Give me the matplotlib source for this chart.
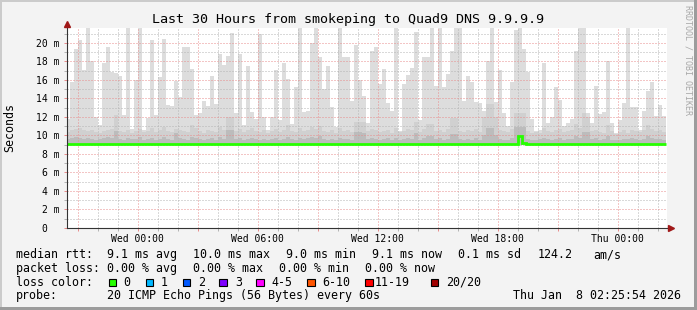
import numpy as np
import matplotlib
matplotlib.use("Agg")
import matplotlib.pyplot as plt
from matplotlib.patches import Rectangle
from matplotlib.ticker import MultipleLocator

W, H = 697, 310  # output size in pixels

title = "Last 30 Hours from smokeping to Quad9 DNS 9.9.9.9"
y_title = "Seconds"
watermark = "RRDTOOL / TOBI OETIKER"

# smoke columns: one every 12 minutes, time in hours relative to Wed 00:00
first_edge = -3.585
step_h = 0.2

# slowest ping per column (ms), 22 = off the top of the graph
max_rtt = [
    11.8, 15.8, 19.35, 20.3, 17.1, 22, 18.05, 12.0, 11.1, 17.8,
    19.55, 16.9, 16.7, 16.4, 12.2, 22, 10.7, 16.0, 22, 10.6,
    11.9, 20.3, 12.2, 16.3, 20.4, 13.3, 13.2, 15.9, 14.2, 19.5,
    19.55, 17.2, 12.2, 12.4, 13.7, 13.2, 16.4, 13.4, 18.8, 17.6,
    18.6, 21.1, 12.4, 18.8, 11.1, 17.5, 12.5, 11.8, 21.0, 12.0,
    10.6, 12.0, 17.1, 11.7, 17.8, 16.1, 11.2, 15.2, 22, 12.5,
    12.6, 20.0, 22, 18.5, 15.0, 17.5, 13.1, 10.9, 22, 18.5,
    18.5, 13.7, 19.8, 16.0, 14.3, 11.35, 19.1, 19.55, 15.5, 17.2,
    13.5, 12.6, 22, 10.5, 15.6, 16.5, 17.3, 21.2, 11.7, 18.5,
    18.5, 22, 15.3, 22, 15.25, 16.6, 19.1, 22, 22, 13.7,
    16.4, 15.8, 13.6, 13.5, 12.6, 18.05, 22, 13.6, 17.1, 12.4,
    11.0, 15.8, 21.4, 22, 19.35, 16.8, 11.8, 10.5, 10.6, 17.8,
    11.35, 12.0, 15.2, 13.8, 11.0, 11.35, 11.8, 19.1, 22, 22,
    12.4, 11.35, 15.35, 12.3, 12.5, 18.05, 11.35, 10.3, 11.7, 13.5,
    22, 13.1, 13.1, 10.6, 12.6, 14.8, 15.8, 12.1, 13.3, 12.1,
]

# second smoke layer (2nd slowest .. 2nd fastest ping)
upper_rtt = [
    10.4, 10.6, 10.7, 10.8, 10.6, 10.5, 10.6, 10.4, 10.3, 10.5,
    10.6, 10.7, 12.2, 10.5, 10.4, 10.6, 10.3, 10.5, 10.7, 10.4,
    10.5, 10.8, 10.4, 10.6, 10.9, 10.5, 10.4, 10.7, 10.6, 10.5,
    10.4, 11.1, 10.8, 10.5, 10.3, 10.6, 10.5, 10.4, 10.9, 10.6,
    12.0, 12.0, 10.5, 10.7, 10.4, 10.6, 10.8, 10.5, 10.4, 10.6,
    10.3, 10.5, 10.7, 10.4, 10.6, 11.1, 10.5, 10.4, 10.8, 10.5,
    10.6, 10.9, 10.7, 11.0, 10.5, 10.4, 10.6, 10.3, 10.8, 10.5,
    10.6, 10.4, 11.4, 11.5, 11.4, 10.5, 10.7, 10.6, 10.4, 10.5,
    10.6, 10.3, 10.8, 10.4, 10.5, 10.7, 10.6, 11.5, 10.4, 10.7,
    11.2, 11.2, 10.5, 10.6, 10.4, 10.7, 11.9, 11.9, 10.5, 10.4,
    10.6, 10.5, 10.7, 10.4, 12.0, 13.4, 13.4, 12.0, 10.6, 10.5,
    10.4, 10.7, 12.4, 12.4, 12.4, 10.5, 10.3, 10.4, 10.3, 10.8,
    10.5, 10.4, 10.6, 10.7, 10.4, 10.5, 10.6, 11.2, 10.8, 12.4,
    12.0, 10.5, 10.6, 10.4, 10.3, 11.1, 10.5, 10.2, 10.4, 10.6,
    10.3, 10.6, 10.5, 10.4, 10.6, 11.1, 10.7, 10.5, 10.6, 10.4,
]

# inner smoke layer
inner_rtt = [
    9.6, 9.7, 9.8, 9.7, 9.6, 9.7, 9.6, 9.5, 9.6, 9.7,
    9.8, 9.7, 10.5, 9.6, 9.5, 9.7, 9.6, 9.6, 9.8, 9.5,
    9.6, 9.7, 9.5, 9.6, 9.8, 9.6, 9.5, 10.3, 9.7, 9.6,
    9.5, 9.8, 9.7, 9.6, 9.5, 9.6, 9.7, 9.5, 9.8, 9.6,
    10.6, 10.6, 9.6, 9.7, 9.5, 9.6, 9.7, 9.6, 9.5, 9.6,
    9.5, 9.6, 9.7, 9.5, 9.6, 9.8, 9.6, 9.5, 9.7, 9.6,
    9.7, 9.8, 9.7, 9.9, 9.6, 9.5, 9.6, 9.5, 9.7, 9.6,
    9.6, 9.5, 10.4, 10.4, 10.3, 9.6, 9.7, 9.6, 9.5, 9.6,
    9.7, 9.5, 9.7, 9.5, 9.6, 9.7, 9.6, 10.3, 9.5, 9.7,
    9.9, 9.9, 9.6, 9.7, 9.5, 9.6, 10.2, 10.2, 9.6, 9.5,
    9.6, 9.5, 9.7, 9.5, 10.0, 10.8, 10.8, 10.0, 9.6, 9.5,
    9.5, 9.7, 10.9, 10.9, 10.9, 9.6, 9.5, 9.5, 9.6, 9.7,
    9.6, 9.5, 9.6, 9.7, 9.5, 9.6, 9.6, 9.9, 9.7, 10.4,
    10.4, 9.6, 9.7, 9.5, 9.6, 9.9, 9.5, 9.5, 9.5, 9.6,
    9.6, 9.7, 9.6, 9.5, 9.6, 9.9, 9.7, 9.6, 9.6, 9.5,
]

median_rtt = [
    9.10, 9.12, 9.10, 9.08, 9.10, 9.10, 9.05, 9.10, 9.10, 9.10,
    9.12, 9.10, 9.10, 9.10, 9.08, 9.10, 9.10, 9.10, 9.12, 9.10,
    9.05, 9.10, 9.10, 9.10, 9.08, 9.10, 9.10, 9.10, 9.12, 9.10,
    9.10, 9.08, 9.10, 9.10, 9.10, 9.05, 9.10, 9.10, 9.10, 9.12,
    9.10, 9.10, 9.08, 9.10, 9.10, 9.10, 9.12, 9.10, 9.05, 9.10,
    9.10, 9.10, 9.10, 9.08, 9.10, 9.10, 9.10, 9.12, 9.10, 9.10,
    9.10, 9.12, 9.10, 9.10, 9.08, 9.10, 9.10, 9.10, 9.10, 9.12,
    9.10, 9.10, 9.10, 9.10, 9.10, 9.08, 9.10, 9.12, 9.10, 9.10,
    9.10, 9.10, 9.10, 9.10, 9.10, 9.10, 9.12, 9.10, 9.10, 9.10,
    9.10, 9.02, 9.10, 9.12, 9.10, 9.10, 9.10, 9.10, 9.10, 9.10,
    9.10, 9.10, 9.10, 9.12, 9.10, 9.10, 9.08, 9.10, 9.10, 9.10,
    9.10, 9.10, 9.10, 9.95, 9.15, 9.10, 9.10, 9.10, 9.10, 9.10,
    9.10, 9.10, 9.10, 9.12, 9.10, 9.10, 9.10, 9.10, 9.10, 9.10,
    9.10, 9.10, 9.10, 9.10, 9.10, 9.05, 9.10, 9.10, 9.10, 9.10,
    9.10, 9.10, 9.10, 9.10, 9.10, 9.10, 9.12, 9.10, 9.10, 9.10,
]
min_rtt = 9.0

x_ticks = [0, 6, 12, 18, 24]
x_labels = ["Wed 00:00", "Wed 06:00", "Wed 12:00", "Wed 18:00", "Thu 00:00"]
y_ticks = [0, 2, 4, 6, 8, 10, 12, 14, 16, 18, 20]
y_labels = ["0\u00a0\u00a0", "2 m", "4 m", "6 m", "8 m", "10 m",
            "12 m", "14 m", "16 m", "18 m", "20 m"]

# legend block under the graph: (x pixel, text)
legend_rows = [
    [(16, "median rtt:"), (107, "9.1 ms avg"), (193, "10.0 ms max"),
     (286, "9.0 ms min"), (372, "9.1 ms now"), (458, "0.1 ms sd"),
     (538, "124.2"), (593, "am/s")],
    [(16, "packet loss:"), (107, "0.00 % avg"), (193, "0.00 % max"),
     (279, "0.00 % min"), (365, "0.00 % now")],
    [(16, "loss color:")],
    [(16, "probe:"), (107, "20 ICMP Echo Pings (56 Bytes) every 60s"),
     (513, "Thu Jan  8 02:25:54 2026")],
]
loss_labels = ["0", "1", "2", "3", "4-5", "6-10", "11-19", "20/20"]
loss_colors = ["#26ff00", "#00b8ff", "#0059ff", "#7e00ff",
               "#ff00ff", "#ff5500", "#ff0000", "#a10000"]
loss_box_x = [108.7, 145.7, 182.7, 219.3, 256.3, 307.3, 365, 430.7]
loss_text_x = [123, 160.7, 197.7, 235, 271.7, 322.7, 375, 446]

plt.rcParams["font.family"] = "DejaVu Sans Mono"

MGRID = "#e88c8c"
GRID = "#b4b4b4"
AXIS = "#333333"
ARROW = "#a01818"


def fx(x):
    return x / W


def fy(y):
    return 1 - y / H


fig = plt.figure(figsize=(W / 100, H / 100), dpi=100, facecolor="#f3f3f3")
ax = fig.add_axes([fx(67), fy(228), 600 / W, 200 / H])
ax.set_facecolor("white")

edges = first_edge + step_h * np.arange(len(max_rtt) + 1)
ax.stairs(max_rtt, edges, baseline=min_rtt, fill=True, color="#dddddd", lw=0, zorder=1)
ax.stairs(upper_rtt, edges, baseline=min_rtt, fill=True, color="#d0d0d0", lw=0, zorder=1.1)
ax.stairs(inner_rtt, edges, baseline=min_rtt, fill=True, color="#bcbcbc", lw=0, zorder=1.2)
ax.stairs(median_rtt, edges, baseline=None, color="#26ff00", lw=2.0, zorder=3)

ax.set_xlim(-3.535, 26.465)
ax.set_ylim(0, 21.6)

major_x = list(range(-3, 27, 3))
ax.set_xticks(major_x)
ax.set_xticklabels([x_labels[x_ticks.index(t)] if t in x_ticks else "" for t in major_x])
ax.xaxis.set_minor_locator(MultipleLocator(1))
ax.set_yticks(y_ticks)
ax.set_yticklabels(y_labels)
ax.yaxis.set_minor_locator(MultipleLocator(1))

ax.grid(which="major", color=MGRID, linestyle=(0, (1, 2)), linewidth=0.72, snap=True)
ax.grid(which="minor", color=GRID, linestyle=(0, (1, 2)), linewidth=0.72, snap=True)
ax.tick_params(which="both", direction="out", length=2.2, width=0.72, labelsize=7.05)
ax.tick_params(which="major", color=MGRID)
ax.tick_params(which="minor", color=GRID)
ax.tick_params(axis="x", pad=2.2)
ax.tick_params(axis="y", pad=2.9)

for s in ax.spines.values():
    s.set_visible(False)

# axis lines with arrow heads
ax.plot([0, 0], [0, 1.015], transform=ax.transAxes, color=AXIS, lw=0.8,
        clip_on=False, zorder=4)
ax.plot([0, 1.004], [0, 0], transform=ax.transAxes, color=AXIS, lw=0.8,
        clip_on=False, zorder=4)
ax.plot([0], [1.0215], transform=ax.transAxes, marker="^", ms=4.2,
        color=ARROW, clip_on=False, zorder=5)
ax.plot([1.0065], [0], transform=ax.transAxes, marker=">", ms=4.2,
        color=ARROW, clip_on=False, zorder=5)

fig.text(fx(348), fy(23.3), title, fontsize=9.6, ha="center", va="baseline")
fig.text(fx(10), fy(128), y_title, fontsize=8.4, rotation=90,
         ha="center", va="center")
fig.text(fx(688), fy(60), watermark, fontsize=6, rotation=270,
         ha="center", va="center", color="#a8a8a8")

for i, row in enumerate(legend_rows):
    base = 258.3 + 13.6 * i
    for x, txt in row:
        fig.text(fx(x), fy(base), txt, fontsize=8.4, ha="left", va="baseline")

for bx, tx, lab, col in zip(loss_box_x, loss_text_x, loss_labels, loss_colors):
    fig.add_artist(Rectangle((fx(bx), fy(286)), 7.5 / W, 7.5 / H,
                             transform=fig.transFigure, facecolor=col,
                             edgecolor="black", lw=0.8))
    fig.text(fx(tx), fy(285.5), lab, fontsize=8.4, ha="left", va="baseline")

# 3d frame around the image
fig.add_artist(Rectangle((0, 1 - 2 / H), 1, 2 / H, transform=fig.transFigure,
                         color="#cbcbcb", lw=0))
fig.add_artist(Rectangle((0, 0), 2 / W, 1, transform=fig.transFigure,
                         color="#cbcbcb", lw=0))
fig.add_artist(Rectangle((0, 0), 1, 3 / H, transform=fig.transFigure,
                         color="#9c9c9c", lw=0))
fig.add_artist(Rectangle((1 - 3 / W, 0), 3 / W, 1, transform=fig.transFigure,
                         color="#9c9c9c", lw=0))

fig.savefig("out.png", dpi=100, facecolor=fig.get_facecolor())
